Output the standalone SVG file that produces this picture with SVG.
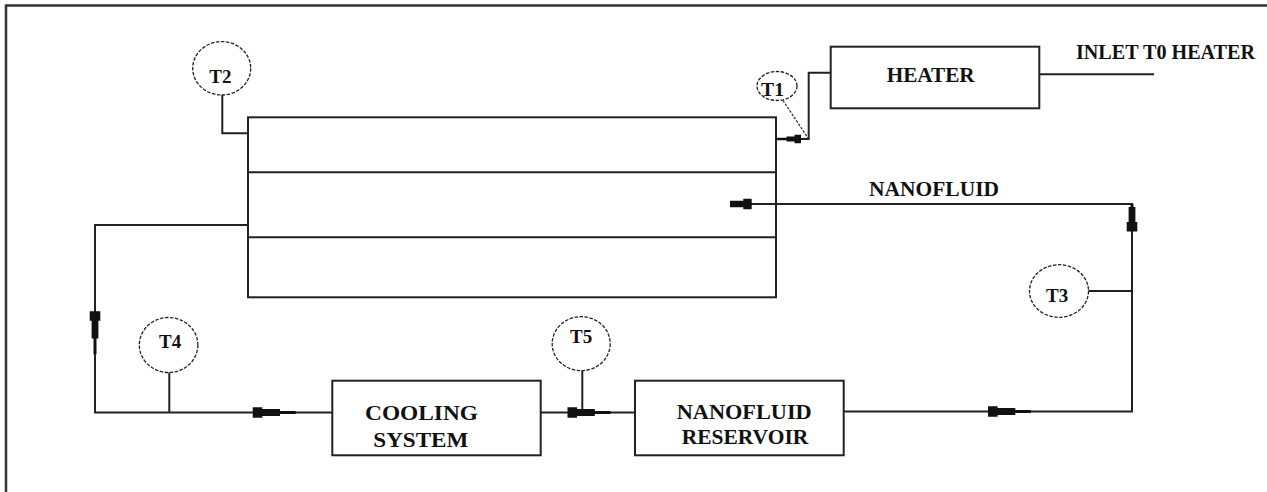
<svg xmlns="http://www.w3.org/2000/svg" xmlns:xlink="http://www.w3.org/1999/xlink" width="1267" height="492" viewBox="0 0 1267 492">
<style>
.ln{fill:none;stroke:#222;stroke-width:2;stroke-linejoin:miter}
.box{fill:none;stroke:#222;stroke-width:2}
.gauge{fill:#fff;stroke:#222;stroke-width:1.3;stroke-dasharray:3.5 1.5}
.dash{fill:none;stroke:#333;stroke-width:1.3;stroke-dasharray:2.5 1.5}
.t{font-family:"Liberation Serif","Times New Roman",serif;font-weight:bold;fill:#111}
.big{font-size:22px}
.small{font-size:19px}
.arr{fill:#111;stroke:none}
</style>
<defs>
<path id="arr" d="M0,-5.3 H9.6 V-3.4 H27.3 V-1.5 H43 V1.5 H27.3 V3.4 H9.6 V5.3 H0 Z"/>
</defs>
<rect x="0" y="0" width="1267" height="492" fill="#fff"/>
<polyline points="6,492 6,5.5 1267,5.5" fill="none" stroke="#333" stroke-width="2.5"/>

<g id="heat-exchanger">
<rect class="box" x="248" y="117.3" width="528" height="180"/>
<path class="ln" d="M248,172.3 H776 M248,237.3 H776"/>
</g>

<g id="heater">
<rect class="box" x="830.7" y="46.7" width="208.6" height="61.6"/>
<text class="t big" x="886.7" y="82" textLength="88" lengthAdjust="spacingAndGlyphs">HEATER</text>
</g>

<g id="inlet-label">
<text class="t" font-size="20" x="1076" y="59" textLength="179" lengthAdjust="spacingAndGlyphs">INLET T0 HEATER</text>
</g>

<g id="nanofluid-label">
<text class="t big" x="869" y="196" textLength="130" lengthAdjust="spacingAndGlyphs">NANOFLUID</text>
</g>

<g id="cooling-system">
<rect class="box" x="332.3" y="380.7" width="208.4" height="74.6"/>
<text class="t big" x="365" y="419.5" textLength="113" lengthAdjust="spacingAndGlyphs">COOLING</text>
<text class="t big" x="373.3" y="447" textLength="95" lengthAdjust="spacingAndGlyphs">SYSTEM</text>
</g>

<g id="nanofluid-reservoir">
<rect class="box" x="635" y="380.7" width="208.7" height="74.6"/>
<text class="t big" x="676.7" y="418.5" textLength="135" lengthAdjust="spacingAndGlyphs">NANOFLUID</text>
<text class="t big" x="681.7" y="443.5" textLength="126.6" lengthAdjust="spacingAndGlyphs">RESERVOIR</text>
</g>

<g id="T1">
<ellipse class="gauge" cx="777" cy="86" rx="20" ry="14.5"/>
<text class="t" font-size="19" x="761" y="96" textLength="23" lengthAdjust="spacingAndGlyphs">T1</text>
</g>

<g id="T2">
<ellipse class="gauge" cx="221.7" cy="68.3" rx="29" ry="26.7"/>
<text class="t small" x="209.3" y="82.7">T2</text>
</g>

<g id="T3">
<ellipse class="gauge" cx="1059" cy="291" rx="29.5" ry="26.3"/>
<text class="t small" x="1046" y="301.7">T3</text>
</g>

<g id="T4">
<ellipse class="gauge" cx="168.6" cy="345" rx="29.3" ry="27.5"/>
<text class="t small" x="159" y="347.7">T4</text>
</g>

<g id="T5">
<ellipse class="gauge" cx="581.2" cy="343.7" rx="29" ry="27"/>
<text class="t small" x="570" y="342.7">T5</text>
</g>

<g id="connectors">
<path class="ln" d="M222.3,95 V133.3 H248"/>
<path class="ln" d="M248,225 H95 V412.5 H332.3"/>
<path class="ln" d="M169.3,372.5 V412.5"/>
<path class="ln" d="M540.7,412.5 H635"/>
<path class="ln" d="M582.3,370.7 V412.5"/>
<path class="ln" d="M843.7,411.5 H1132 V204 H730"/>
<path class="ln" d="M1088.5,291 H1132"/>
<path class="ln" d="M776,139 H808.7 V72.7 H830.7"/>
<path class="dash" d="M783,100.5 L808,138"/>
<path class="ln" d="M1039.3,74.3 H1154"/>
<use xlink:href="#arr" class="arr" transform="translate(252.7,412.5)"/>
<use xlink:href="#arr" class="arr" transform="translate(567.5,412.5)"/>
<use xlink:href="#arr" class="arr" transform="translate(988,411.5)"/>
<use xlink:href="#arr" class="arr" transform="translate(95,311.2) rotate(90)"/>
<path class="arr" d="M1126.7,231.5 V222 H1128.6 V207 H1130.5 V204 H1133.5 V207 H1135.4 V222 H1137.3 V231.5 Z"/>
<path class="arr" d="M751.7,198.8 H743.3 V200.8 H730 V207.2 H743.3 V209.2 H751.7 Z"/>
<path class="arr" d="M801,134.8 H794.5 V136.5 H786.5 V137.8 H776 V140.2 H786.5 V141.5 H794.5 V143.2 H801 Z"/>
</g>
</svg>
